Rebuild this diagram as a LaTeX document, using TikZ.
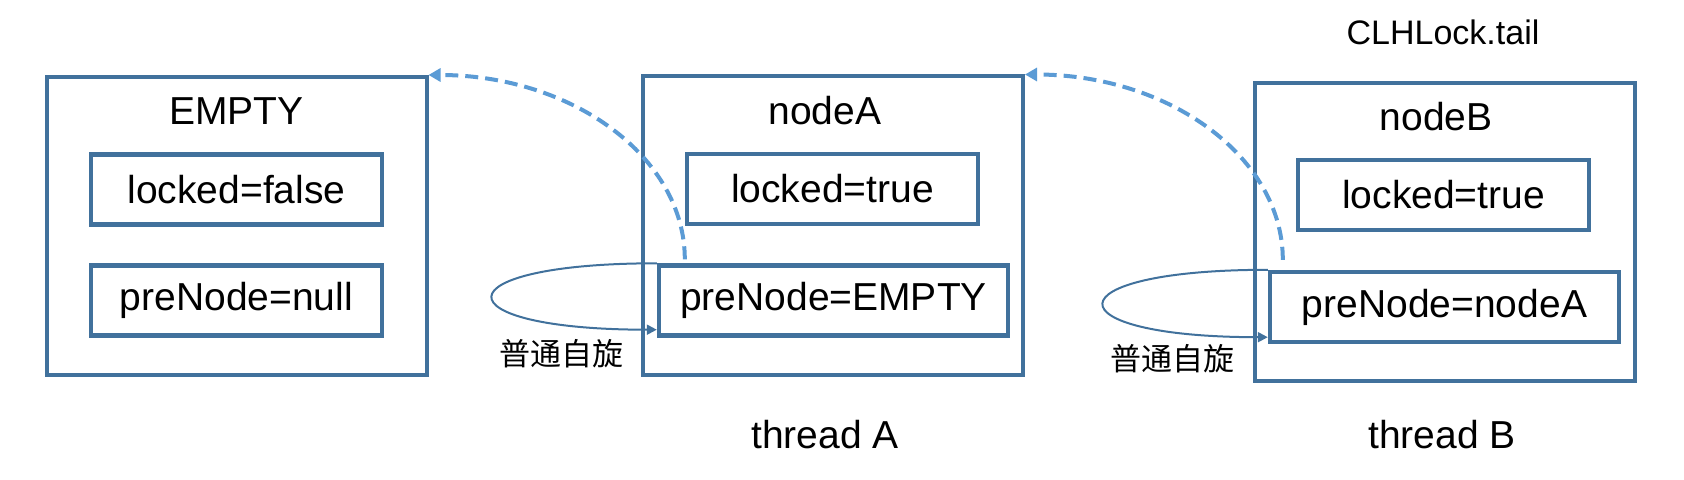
\documentclass[tikz,border=0pt]{standalone}
\usepackage{fontspec}
\setmainfont{Liberation Sans}
\newfontfamily\cjk{Noto Sans CJK SC}
\usetikzlibrary{arrows.meta,calc}
\definecolor{boxblue}{RGB}{65,113,156}
\definecolor{linkblue}{RGB}{91,155,213}

\begin{document}
\begin{tikzpicture}[x=0.5pt, y=-0.5pt,
    lockbox/.style={draw=boxblue, line width=2pt, minimum width=190pt, minimum height=149pt, inner sep=0pt},
    field/.style={draw=boxblue, line width=2.2pt, minimum width=145.5pt, minimum height=35pt, inner sep=0pt, font=\fontsize{19.5}{23}\selectfont},
    title/.style={anchor=base, font=\fontsize{19.5}{23}\selectfont},
    spin/.style={boxblue, line width=1pt, -{Triangle[length=5pt,width=5pt]}},
    link/.style={linkblue, line width=2pt, dash pattern=on 6.5pt off 3.5pt, -{Triangle[length=6pt,width=6.5pt]}}]

\useasboundingbox (0,0) rectangle (1684,480);

% Lock nodes
\node[lockbox] (emptyNode) at (236.5,226) {};
\node[lockbox] (nodeA) at (833,225.5) {};
\node[lockbox] (nodeB) at (1444.5,232) {};

% Titles
\node[title] (emptyTitle) at (236.5,125) {EMPTY};
\node[title] (aTitle) at (825,125) {nodeA};
\node[title] (bTitle) at (1436,131) {nodeB};

% Fields
\node[field] (emptyLocked) at (236.5,189.5) {locked=false};
\node[field] (emptyPre) at (236.5,300.5) {preNode=null};
\node[field] (aLocked) at (832.5,189) {locked=true};
\node[field, minimum width=174.5pt] (aPre) at (833.5,300.5) {preNode=EMPTY};
\node[field] (bLocked) at (1443.5,195) {locked=true};
\node[field, minimum width=174.5pt] (bPre) at (1444.5,307) {preNode=nodeA};

% Thread labels
\node[title] (threadA) at (825,448) {thread A};
\node[title] (threadB) at (1442,448) {thread B};
\node[anchor=base, font=\fontsize{17}{20}\selectfont] (tail) at (1443,45) {CLHLock.tail};

% preNode links
\coordinate (aStart) at ($(aPre.north west)+(28,-4)$);
\coordinate (bStart) at ($(bPre.north west)+(15,-10)$);
\draw[link] (aStart) .. controls ($(aStart)+(0,-102)$) and ($(emptyNode.north east)+(144,0)$) .. (emptyNode.north east);
\draw[link] (bStart) .. controls ($(bStart)+(0,-102)$) and ($(nodeA.north east)+(145,0)$) .. (nodeA.north east);

% Spin loops
\draw[spin] (aPre.north west) .. controls ($(aPre.north west)+(-219,0)$) and ($(aPre.south west)+(-219,-8)$) .. ($(aPre.south west)+(0,-8)$);
\draw[spin] (bPre.north west) .. controls ($(bPre.north west)+(-219,0)$) and ($(bPre.south west)+(-219,-7)$) .. ($(bPre.south west)+(0,-7)$);
\node[font=\cjk\fontsize{15.5}{16}\selectfont] (aSpin) at (561,354) {普通自旋};
\node[font=\cjk\fontsize{15.5}{16}\selectfont] (bSpin) at (1172,359) {普通自旋};
\end{tikzpicture}
\end{document}
